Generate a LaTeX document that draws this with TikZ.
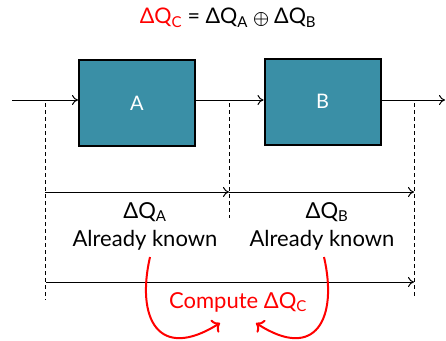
\documentclass[tikz,border=0pt]{standalone}
\usepackage{fontspec}
\setmainfont{Lato}
\usetikzlibrary{arrows.meta}
\definecolor{boxteal}{HTML}{3A8FA6}
\definecolor{redtxt}{HTML}{FF0000}
\tikzset{
  blk/.style={draw=black, line width=2pt, fill=boxteal, minimum width=116pt, minimum height=86pt, inner sep=0pt, text=white, font=\fontsize{20}{24}\selectfont},
  flow/.style={line width=1pt, -{To[length=6pt,width=10pt]}},
  dim/.style={line width=1pt, -{To[length=6pt,width=10pt]}},
  guide/.style={line width=0.8pt, dashed, dash pattern=on 4pt off 3pt},
  lbl/.style={inner sep=0pt, font=\fontsize{22}{26}\selectfont},
  redarc/.style={draw=redtxt, line width=2pt, -{To[length=7pt,width=15pt,line width=2pt]}}
}
\newcommand{\dQ}[1]{ΔQ\textsubscript{\fontsize{15}{18}\selectfont#1}}
\begin{document}
\begin{tikzpicture}[x=1pt,y=-1pt]
\useasboundingbox (0,0) rectangle (446,340);
% title
\node[lbl, font=\fontsize{21.5}{24}\selectfont] (title) at (228,18) {\textcolor{redtxt}{\dQ{C}} = \dQ{A} {\fontsize{15}{15}\selectfont$\displaystyle\bigoplus$} \dQ{B}};
% boxes
\node[blk] (A) at (137,103) {A};
\node[blk] (B) at (322.5,101.5) {B};
\coordinate (in) at (12,100);
\coordinate (out) at (445,100);
\draw[flow] (in) -- (in -| A.west);
\draw[flow] (A.east |- in) -- (B.west |- in);
\draw[flow] (B.east |- in) -- (out);
% guides
\coordinate (g1t) at (45,103); \coordinate (g1b) at (45,300);
\coordinate (g2t) at (229,103); \coordinate (g2b) at (229,218);
\coordinate (g3t) at (414,103); \coordinate (g3b) at (414,298);
\draw[guide] (g1t) -- (g1b);
\draw[guide] (g2t) -- (g2b);
\draw[guide] (g3t) -- (g3b);
% dimension arrows
\coordinate (m1) at (45,192); \coordinate (m2) at (229,192); \coordinate (m3) at (414,192);
\draw[dim] (m1) -- (m2);
\draw[dim] (m2) -- (m3);
\coordinate (t1) at (46,282); \coordinate (t2) at (414,282);
\draw[dim] (t1) -- (t2);
% labels
\node[lbl] (qa) at (145,212) {\dQ{A}};
\node[lbl] (ka) at (145,240) {Already known};
\node[lbl] (qb) at (327,212) {\dQ{B}};
\node[lbl] (kb) at (322,240) {Already known};
\node[lbl, text=redtxt] (comp) at (238,302) {Compute \dQ{C}};
% red arcs
\coordinate (sa) at (150,257); \coordinate (ea) at (220,323);
\coordinate (sb) at (324,257); \coordinate (eb) at (256,323);
\draw[redarc] (sa) .. controls (136,318) and (158,362) .. (ea);
\draw[redarc] (sb) .. controls (338,318) and (316,362) .. (eb);
\end{tikzpicture}
\end{document}
